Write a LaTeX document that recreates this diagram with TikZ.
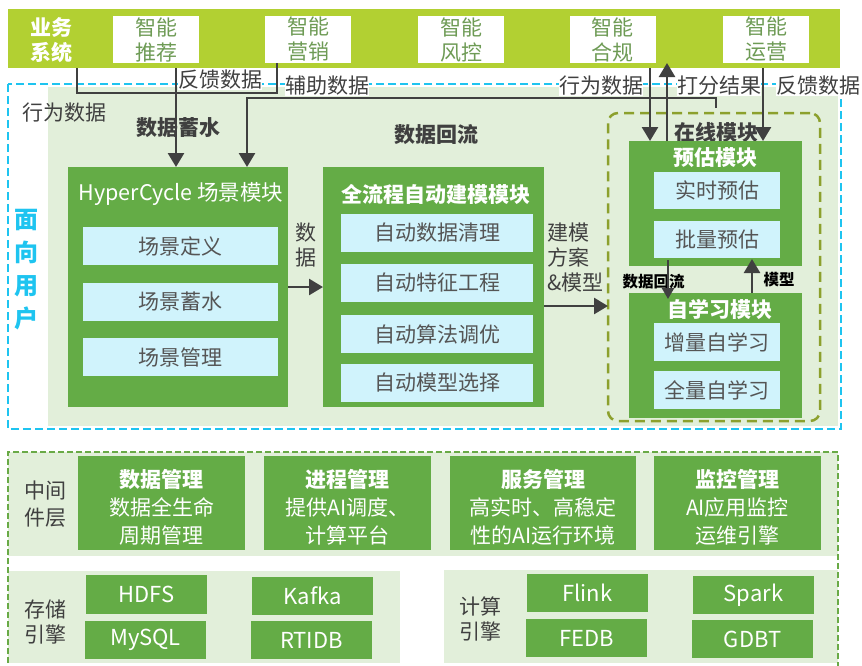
\documentclass[tikz,border=0pt]{standalone}
\usepackage{fontspec}
\setmainfont{Noto Sans CJK SC}
\usetikzlibrary{arrows.meta}
\definecolor{barg}{RGB}{178,208,50}
\definecolor{boxg}{RGB}{100,172,70}
\definecolor{lgreen}{RGB}{226,239,218}
\definecolor{lblue}{RGB}{208,243,252}
\definecolor{cyanl}{RGB}{30,196,240}
\definecolor{olivel}{RGB}{140,160,45}
\definecolor{dgreen}{RGB}{105,170,70}
\definecolor{txtg}{RGB}{110,155,85}
\definecolor{dk}{RGB}{64,64,64}
\definecolor{gtxt}{RGB}{85,85,85}
\begin{document}
\begin{tikzpicture}[x=1pt,y=-1pt,
  every node/.style={inner sep=0pt,outer sep=0pt},
  gbox/.style={fill=boxg},
  bbox/.style={fill=lblue,text=gtxt,font=\fontsize{21}{24}\selectfont},
  wbox/.style={fill=white,text=txtg,align=center,font=\fontsize{21}{25}\selectfont},
  ttl/.style={text=white,font=\bfseries\fontsize{21}{24}\selectfont},
  wtxt/.style={text=white,font=\fontsize{21}{24}\selectfont},
  lbl/.style={text=dk,font=\fontsize{21}{24}\selectfont},
  wlbl/.style={text=dk,fill=white,font=\fontsize{21}{24}\selectfont},
  blbl/.style={text=dk,font=\bfseries\fontsize{21}{24}\selectfont},
  slbl/.style={text=black,font=\bfseries\fontsize{15.5}{18}\selectfont},
  ln/.style={draw=dk,line width=2.6pt},
  arr/.style={draw=dk,line width=2.6pt,-{Triangle[width=16pt,length=14pt]}},
  sarr/.style={draw=dk,line width=2.4pt,-{Triangle[width=12pt,length=11pt]}}
  ]
\useasboundingbox (0,0) rectangle (862,665);

% ---------- top bar ----------
\node[fill=barg,minimum width=832pt,minimum height=59pt] (bar) at (424,38.5) {};
\node[text=white,align=center,font=\bfseries\fontsize{21}{25}\selectfont] (biz) at (51,40) {业务\\系统};
\node[wbox,minimum width=86pt,minimum height=47pt] (tuijian) at (156,39.5) {智能\\推荐};
\node[wbox,minimum width=86pt,minimum height=47pt] (yingxiao) at (308,39.5) {智能\\营销};
\node[wbox,minimum width=86pt,minimum height=47pt] (fengkong) at (461,39.5) {智能\\风控};
\node[wbox,minimum width=86pt,minimum height=47pt] (hegui) at (612.5,39.5) {智能\\合规};
\node[wbox,minimum width=86pt,minimum height=47pt] (yunying) at (766,39.5) {智能\\运营};

% ---------- user-facing area ----------
\node[fill=lgreen,minimum width=790pt,minimum height=339pt] (area) at (443,256.5) {};
\draw[cyanl,line width=2.5pt,dash pattern=on 8pt off 4pt] (8,84) rectangle (841,429);
\node[text=cyanl,align=center,font=\bfseries\fontsize{24}{33}\selectfont] (user) at (26,269.5) {面\\向\\用\\户};

\node[wlbl] (l1) at (220,80) {反馈数据};
\node[wlbl] (l2) at (327,86) {辅助数据};
\node[lbl] (l3) at (65,113) {行为数据};
\node[wlbl] (l4) at (601,86) {行为数据};
\node[wlbl] (l5) at (719,86) {打分结果};
\node[wlbl] (l6) at (818,86) {反馈数据};
\node[blbl] (xs) at (178,128) {数据蓄水};
\node[blbl] (hl) at (436,135) {数据回流};

% HyperCycle module
\node[gbox,minimum width=220pt,minimum height=240pt] (hyper) at (178,287) {};
\node[ttl,font=\fontsize{21.5}{24}\selectfont] (hyt) at (181,194) {HyperCycle 场景模块};
\node[bbox,minimum width=195pt,minimum height=38pt] (h1) at (180.5,246) {场景定义};
\node[bbox,minimum width=195pt,minimum height=38pt] (h2) at (180.5,302) {场景蓄水};
\node[bbox,minimum width=195pt,minimum height=38pt] (h3) at (180.5,357) {场景管理};

% auto modeling module
\node[gbox,minimum width=221pt,minimum height=240pt] (mid) at (433.5,287) {};
\node[ttl] (mdt) at (436,194) {全流程自动建模模块};
\node[bbox,minimum width=192pt,minimum height=38pt] (m1) at (437,232.5) {自动数据清理};
\node[bbox,minimum width=192pt,minimum height=38pt] (m2) at (437,283) {自动特征工程};
\node[bbox,minimum width=192pt,minimum height=38pt] (m3) at (437,334) {自动算法调优};
\node[bbox,minimum width=192pt,minimum height=38pt] (m4) at (437,383) {自动模型选择};

\node[lbl,align=center,font=\fontsize{21}{25}\selectfont] (sj) at (306,245) {数\\据};
\node[lbl,align=left,anchor=west,font=\fontsize{21}{25}\selectfont] (jm) at (547,258) {建模\\方案\\\&模型};

% online module
\node[draw=olivel,line width=2.5pt,dash pattern=on 10pt off 6pt,rounded corners=10pt,minimum width=212pt,minimum height=308pt] (online) at (714,267) {};
\node[blbl] (olt) at (716,132) {在线模块};
\node[gbox,minimum width=173pt,minimum height=125pt] (pred) at (715.5,203.5) {};
\node[ttl] (prt) at (715,157.5) {预估模块};
\node[bbox,minimum width=126pt,minimum height=37pt] (p1) at (717,190.5) {实时预估};
\node[bbox,minimum width=126pt,minimum height=37pt] (p2) at (717,239.5) {批量预估};
\node[gbox,minimum width=173pt,minimum height=125pt] (self) at (715.5,355.5) {};
\node[ttl] (sft) at (720,309) {自学习模块};
\node[bbox,minimum width=126pt,minimum height=38pt] (s1) at (717,342) {增量自学习};
\node[bbox,minimum width=126pt,minimum height=38pt] (s2) at (717,390) {全量自学习};
\node[slbl] (hl2) at (653.5,281.5) {数据回流};
\node[slbl] (mx) at (779,280) {模型};

% ---------- connectors ----------
\coordinate (cA) at (77,0);
\coordinate (cB) at (176,0);
\coordinate (cC) at (277,0);
\coordinate (cD) at (247,0);
\coordinate (cE) at (716,0);
\coordinate (cF) at (650,0);
\coordinate (cG) at (667,0);
\coordinate (cH) at (763,0);
\coordinate (jy) at (0,93);
\coordinate (ky) at (0,98);
\coordinate (fz) at (716,108);

\draw[ln] (bar.south -| cA) -- (cA |- jy) -- (cC |- jy) -- (yingxiao.south -| cC);
\draw[arr] (bar.south -| cB) -- (hyper.north -| cB);
\draw[arr] (fz) -- (cE |- ky) -- (cD |- ky) -- (hyper.north -| cD);
\draw[arr] (bar.south -| cF) -- (pred.north -| cF);
\draw[arr] (pred.north -| cG) -- (hegui.south -| cG);
\draw[arr] (bar.south -| cH) -- (pred.north -| cH);

\draw[arr] (hyper.east) -- (mid.west);
\draw[arr] ([yshift=-19pt]mid.east) -- ([yshift=-19pt]mid.east -| online.west);
\draw[sarr] ([xshift=-47.5pt,yshift=6pt]pred.south) -- ([xshift=-47.5pt,yshift=-6pt]self.north);
\draw[arr] ([xshift=36.5pt]self.north) -- ([xshift=36.5pt,yshift=7pt]pred.south);

% ---------- middleware ----------
\node[fill=lgreen,minimum width=830pt,minimum height=104pt] (mwband) at (423,504) {};
\node[fill=lgreen,minimum width=392pt,minimum height=92pt] (stband) at (204,617) {};
\node[fill=lgreen,minimum width=394pt,minimum height=93pt] (cpband) at (641,616.5) {};
\draw[dgreen,line width=2.5pt,dash pattern=on 6pt off 3pt] (8,690) -- (8,452) -- (838,452) -- (838,690);

\node[lbl,align=center,font=\fontsize{21}{26.5}\selectfont] (mwl) at (45,504) {中间\\件层};
\node[lbl,align=center,font=\fontsize{21}{25}\selectfont] (stl) at (45,621.5) {存储\\引擎};
\node[lbl,align=center,font=\fontsize{21}{25}\selectfont] (cpl) at (480,619) {计算\\引擎};

\node[gbox,minimum width=167pt,minimum height=94pt] (dm) at (161.5,503) {};
\node[gbox,minimum width=167pt,minimum height=94pt] (pm) at (347.5,503) {};
\node[gbox,minimum width=186pt,minimum height=94pt] (sm) at (543,503) {};
\node[gbox,minimum width=167pt,minimum height=94pt] (km) at (737.5,503) {};
\node[wtxt,align=center,font=\fontsize{21}{28}\selectfont] (dmt) at (161.5,507.5) {\textbf{数据管理}\\数据全生命\\周期管理};
\node[wtxt,align=center,font=\fontsize{21}{28}\selectfont] (pmt) at (347.5,507.5) {\textbf{进程管理}\\提供AI调度、\\计算平台};
\node[wtxt,align=center,font=\fontsize{21}{28}\selectfont] (smt) at (543,507.5) {\textbf{服务管理}\\高实时、高稳定\\性的AI运行环境};
\node[wtxt,align=center,font=\fontsize{21}{28}\selectfont] (kmt) at (737.5,507.5) {\textbf{监控管理}\\AI应用监控\\运维引擎};

% storage / compute engines
\node[gbox,wtxt,font=\fontsize{22}{24}\selectfont,minimum width=121pt,minimum height=39pt] (hdfs) at (146.5,594.5) {HDFS};
\node[gbox,wtxt,font=\fontsize{22}{24}\selectfont,minimum width=121pt,minimum height=38pt] (mysql) at (145.5,640) {MySQL};
\node[gbox,wtxt,font=\fontsize{22}{24}\selectfont,minimum width=121pt,minimum height=38pt] (kafka) at (312.5,596) {Kafka};
\node[gbox,wtxt,font=\fontsize{22}{24}\selectfont,minimum width=121pt,minimum height=38pt] (rtidb) at (311.5,640) {RTIDB};
\node[gbox,wtxt,font=\fontsize{22}{24}\selectfont,minimum width=121pt,minimum height=38pt] (flink) at (587.5,593) {Flink};
\node[gbox,wtxt,font=\fontsize{22}{24}\selectfont,minimum width=121pt,minimum height=38pt] (fedb) at (586.5,638) {FEDB};
\node[gbox,wtxt,font=\fontsize{22}{24}\selectfont,minimum width=121pt,minimum height=38pt] (spark) at (753.5,595) {Spark};
\node[gbox,wtxt,font=\fontsize{22}{24}\selectfont,minimum width=121pt,minimum height=38pt] (gdbt) at (752.5,639) {GDBT};
\end{tikzpicture}
\end{document}
